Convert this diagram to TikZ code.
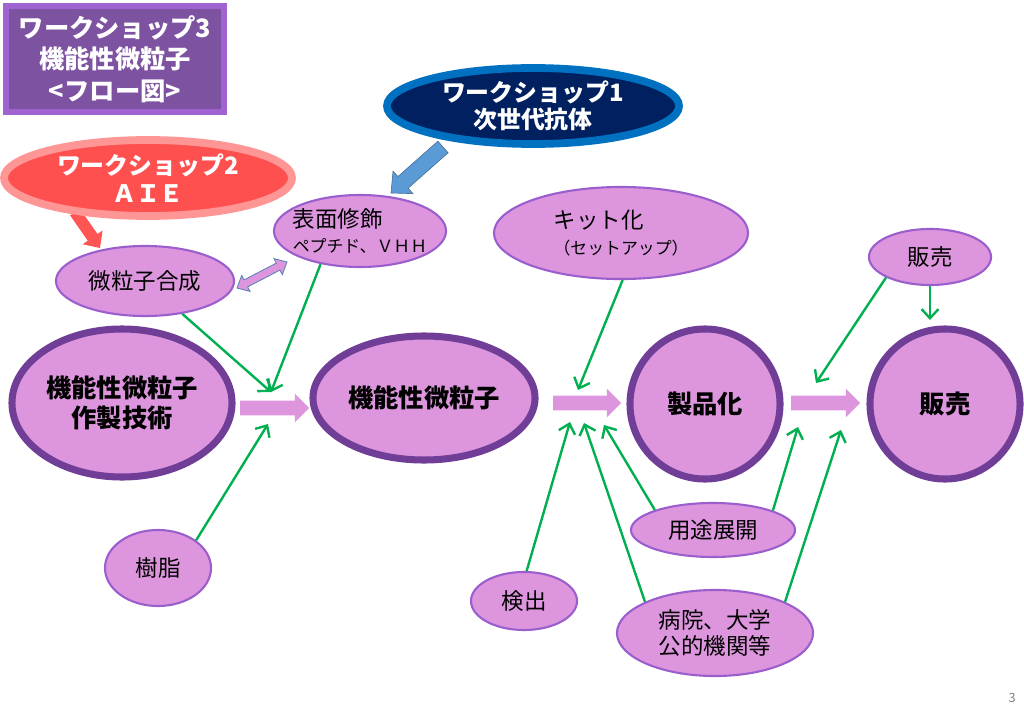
\documentclass[tikz,border=0pt]{standalone}
\usepackage{fontspec}
\setmainfont{Noto Sans CJK JP}
\usepackage{tikz}
\usetikzlibrary{arrows.meta}
\usetikzlibrary{calc}
\usetikzlibrary{shapes.geometric}
\definecolor{nodefill}{RGB}{221,150,222}
\definecolor{nodeline}{RGB}{155,95,205}
\definecolor{bigline}{RGB}{112,62,150}
\definecolor{ggreen}{RGB}{0,176,80}
\definecolor{wsnavy}{RGB}{0,32,96}
\definecolor{wsblue}{RGB}{0,112,192}
\definecolor{wsred}{RGB}{255,80,80}
\definecolor{wspink}{RGB}{255,150,150}
\definecolor{titlefill}{RGB}{125,82,160}
\definecolor{titleline}{RGB}{160,100,210}
\definecolor{bluearrow}{RGB}{91,155,213}
\definecolor{redarrow}{RGB}{255,85,85}
\definecolor{linkline}{RGB}{90,130,180}
\tikzset{subnode/.style = {ellipse, draw = nodeline, line width = 1.5pt, fill = nodefill, inner sep = 0, font = \fontsize{16}{18}\selectfont}}
\tikzset{mainnode/.style = {ellipse, draw = bigline, line width = 5pt, fill = nodefill, inner sep = 0, align = center, font = \bfseries\fontsize{18}{21}\selectfont}}
\tikzset{wsnode/.style = {ellipse, line width = 5.5pt, inner sep = 0, align = center, text = white, font = \bfseries\fontsize{17}{19.5}\selectfont}}
\tikzset{titlebox/.style = {rectangle, fill = titlefill, draw = titleline, line width = 4.3pt, align = center, text = white, font = \bfseries\fontsize{18}{22.4}\selectfont, minimum width = 5.45cm, minimum height = 2.65cm}}
\tikzset{feed/.style = {draw = ggreen, line width = 1.7pt, -{Straight Barb[length = 6.5pt, width = 12pt]}}}
\tikzset{flowarrow/.style = {fill = nodefill}}
\tikzset{linkarrow/.style = {fill = nodefill, draw = linkline, line width = 0.6pt}}
\newcommand{\blockarrow}[6]{%
    \coordinate (bam) at ($(#3)!#6!(#2)$);
    \path [#1] ($(#2)!#4!90:(#3)$) -- ($(bam)!#4!90:(#3)$) -- ($(bam)!#5!90:(#3)$) -- (#3)
        -- ($(bam)!#5!-90:(#3)$) -- ($(bam)!#4!-90:(#3)$) -- ($(#2)!#4!-90:(#3)$) -- cycle;
}
\newcommand{\twowayarrow}[6]{%
    \coordinate (tam) at ($(#2)!#6!(#3)$);
    \coordinate (tbm) at ($(#3)!#6!(#2)$);
    \path [#1] (#2) -- ($(tam)!#5!90:(#3)$) -- ($(tam)!#4!90:(#3)$) -- ($(tbm)!#4!-90:(#2)$)
        -- ($(tbm)!#5!-90:(#2)$) -- (#3) -- ($(tbm)!#5!90:(#2)$) -- ($(tbm)!#4!90:(#2)$)
        -- ($(tam)!#4!-90:(#3)$) -- ($(tam)!#5!-90:(#3)$) -- cycle;
}
\begin{document}
\begin{tikzpicture}[x = 0.025cm, y = -0.025cm]
    \useasboundingbox (0, 0) rectangle (1024, 709);
    \fill [white] (0, 0) rectangle (1024, 709);

    \coordinate (redtail) at (75, 212);
    \coordinate (redtip) at (100, 248);
    \coordinate (bluetail) at (443, 147);
    \coordinate (bluetip) at (391, 193);
    \blockarrow{fill = redarrow}{redtail}{redtip}{4.2pt}{8.6pt}{9.2pt}
    \blockarrow{fill = bluearrow, draw = bluearrow!70!black, line width = 0.4pt}{bluetail}{bluetip}{5.5pt}{10.7pt}{11.4pt}

    \node [titlebox] (title) at (115, 59) {ワークショップ3\\機能性微粒子\\<フロー図>};
    \node [wsnode, fill = wsnavy, draw = wsblue, minimum width = 7.3cm, minimum height = 1.9cm] (ws1) at (533, 106) {ワークショップ1\\次世代抗体};
    \node [wsnode, fill = wsred, draw = wspink, minimum width = 7.2cm, minimum height = 1.9cm] (ws2) at (148, 178) {ワークショップ2\\ＡＩＥ};

    \node [subnode, minimum width = 4.3cm, minimum height = 1.8cm, inner xsep = -9pt, align = left] (hyomen) at (360, 231) {表面修飾\\{\fontsize{12}{18}\selectfont ペプチド、ＶＨＨ}};
    \node [subnode, minimum width = 4.45cm, minimum height = 1.75cm] (gosei) at (145, 281) {微粒子合成};
    \node [subnode, minimum width = 6.35cm, minimum height = 2.3cm, align = left] (kit) at (621, 233) {キット化\\{\fontsize{12}{18}\selectfont （セットアップ）}};
    \node [subnode, minimum width = 3.05cm, minimum height = 1.4cm] (hanbaisub) at (930, 257) {販売};

    \node [mainnode, minimum width = 5.5cm, minimum height = 3.7cm] (sakusei) at (122, 403) {機能性微粒子\\作製技術};
    \node [mainnode, minimum width = 5.55cm, minimum height = 3.1cm] (biryushi) at (424, 398) {機能性微粒子};
    \node [mainnode, minimum size = 3.75cm] (seihin) at (705, 404) {製品化};
    \node [mainnode, minimum size = 3.75cm] (hanbai) at (945, 404) {販売};

    \node [subnode, minimum width = 2.65cm, minimum height = 1.9cm] (jushi) at (158, 568) {樹脂};
    \node [subnode, minimum width = 2.65cm, minimum height = 1.45cm] (kenshutsu) at (524, 601) {検出};
    \node [subnode, minimum width = 4.1cm, minimum height = 1.35cm] (yoto) at (713, 530) {用途展開};
    \node [subnode, minimum width = 4.9cm, minimum height = 2.15cm, align = center] (byoin) at (715, 633) {病院、大学\\公的機関等};

    \node [font = \fontsize{9}{10}\selectfont, text = gray] (page) at (1012, 698) {3};

    \coordinate (flow1a) at (240, 408);
    \coordinate (flow1b) at (309, 408);
    \coordinate (flow2a) at (553, 403);
    \coordinate (flow2b) at (621, 403);
    \coordinate (flow3a) at (791, 403);
    \coordinate (flow3b) at (860, 403);
    \blockarrow{flowarrow}{flow1a}{flow1b}{5.3pt}{10pt}{10pt}
    \blockarrow{flowarrow}{flow2a}{flow2b}{5.3pt}{10pt}{10pt}
    \blockarrow{flowarrow}{flow3a}{flow3b}{5.3pt}{10pt}{10pt}

    \coordinate (linka) at (237, 288);
    \coordinate (linkb) at (287, 262);
    \twowayarrow{linkarrow}{linka}{linkb}{2.8pt}{6.4pt}{7.1pt}

    \coordinate (join1) at (271, 392);
    \coordinate (join2) at (268, 424);
    \coordinate (join3) at (578, 390);
    \coordinate (join4) at (570, 422);
    \coordinate (join5) at (584, 423);
    \coordinate (join6) at (604, 425);
    \coordinate (join7) at (798, 427);
    \coordinate (join8) at (841, 430);
    \coordinate (join9) at (816, 383);
    \coordinate (join10) at (930, 320);

    \draw [feed] (gosei) -- (join1);
    \draw [feed] (hyomen.220) -- (join1);
    \draw [feed] (jushi.36) -- (join2);
    \draw [feed] (kit.272) -- (join3);
    \draw [feed] (kenshutsu.85) -- (join4);
    \draw [feed] (byoin.156) -- (join5);
    \draw [feed] (yoto.161) -- (join6);
    \draw [feed] (yoto.18) -- (join7);
    \draw [feed] (byoin.24) -- (join8);
    \draw [feed] (hanbaisub.205) -- (join9);
    \draw [feed] (hanbaisub.south) -- (join10);
\end{tikzpicture}
\end{document}
